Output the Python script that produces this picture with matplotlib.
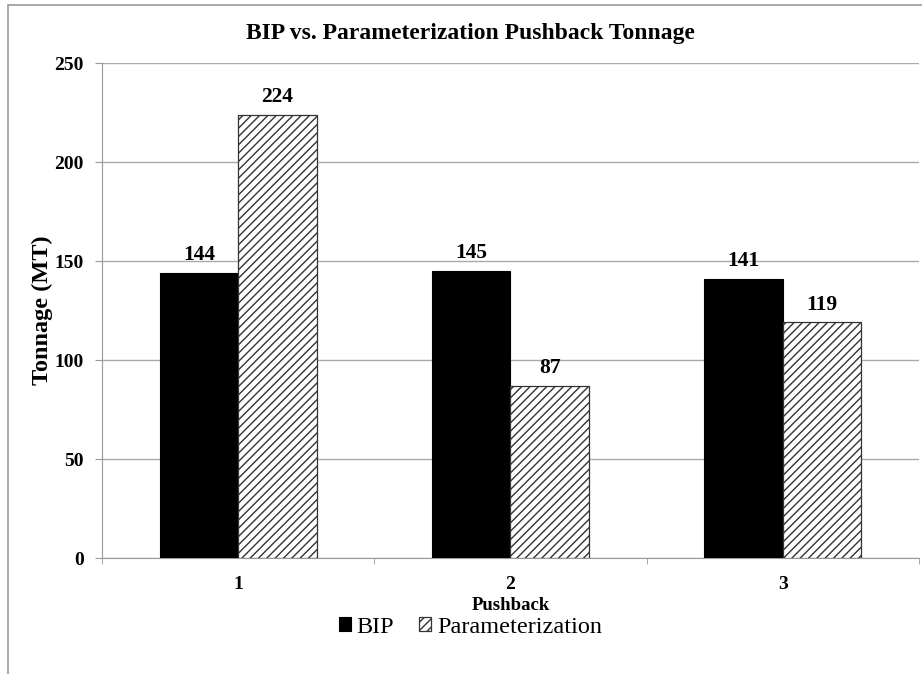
import matplotlib
matplotlib.use('Agg')
import matplotlib.pyplot as plt
import matplotlib.patches as mpatches
import numpy as np

pushbacks = ['1', '2', '3']
bip = [144, 145, 141]
param = [224, 87, 119]

plt.rcParams['font.family'] = ['Liberation Serif', 'DejaVu Serif']
plt.rcParams['hatch.color'] = '#7a7a7a'
plt.rcParams['hatch.linewidth'] = 1.0

fig = plt.figure(figsize=(9.22, 6.74), dpi=100)
ax = fig.add_axes([0.1106, 0.172, 0.886, 0.7345])

# chart area border (left and top visible)
fig.patches.append(mpatches.Rectangle((8/922, -0.1), 2, 1.1 - 5/674, transform=fig.transFigure,
                                      fill=False, edgecolor='#999999', linewidth=1.2))

x = np.arange(len(pushbacks))
w = 0.288
b1 = ax.bar(x - w/2, bip, w, color='black', edgecolor='black', linewidth=0.8, label='BIP', zorder=3)
b2 = ax.bar(x + w/2, param, w, color='white', edgecolor='#333333', linewidth=0.9, hatch='////',
            label='Parameterization', zorder=3)

for bars, vals in ((b1, bip), (b2, param)):
    for r, v in zip(bars, vals):
        ax.text(r.get_x() + r.get_width()/2, v + 4, str(v), ha='center', va='bottom',
                fontsize=15.5, fontweight='bold')

ax.set_xlim(-0.5, 2.5)
ax.set_ylim(0, 250)
ax.set_yticks(range(0, 251, 50))
ax.set_xticks(x)
ax.set_xticklabels(pushbacks)
ax.set_xticks([-0.5, 0.5, 1.5, 2.5], minor=True)
ax.tick_params(axis='x', which='major', length=0, pad=13)
ax.tick_params(axis='x', which='minor', length=4, color='#999999')
ax.tick_params(axis='y', length=5, color='#999999', pad=8)
for lab in ax.get_xticklabels() + ax.get_yticklabels():
    lab.set_fontweight('bold')
    lab.set_fontsize(14)

ax.grid(axis='y', color='#aaaaaa', linewidth=1, zorder=0)
ax.set_axisbelow(True)
for s in ['top', 'right']:
    ax.spines[s].set_visible(False)
ax.spines['left'].set_color('#999999')
ax.spines['bottom'].set_color('#999999')

fig.suptitle('BIP vs. Parameterization Pushback Tonnage', x=470/922, y=1 - 33/674, va='center',
             fontsize=17, fontweight='bold')
ax.set_ylabel('Tonnage (MT)', fontsize=17.5, fontweight='bold', labelpad=1)
ax.set_xlabel('Pushback', fontsize=13.5, fontweight='bold', labelpad=3)

fig.legend(handles=[b1, b2], loc='center', bbox_to_anchor=(0.51, 0.069), ncol=2, frameon=False,
           fontsize=17.5, handlelength=0.5, handleheight=0.5, handletextpad=0.25, columnspacing=1.0)

plt.savefig('out.png', dpi=100)
